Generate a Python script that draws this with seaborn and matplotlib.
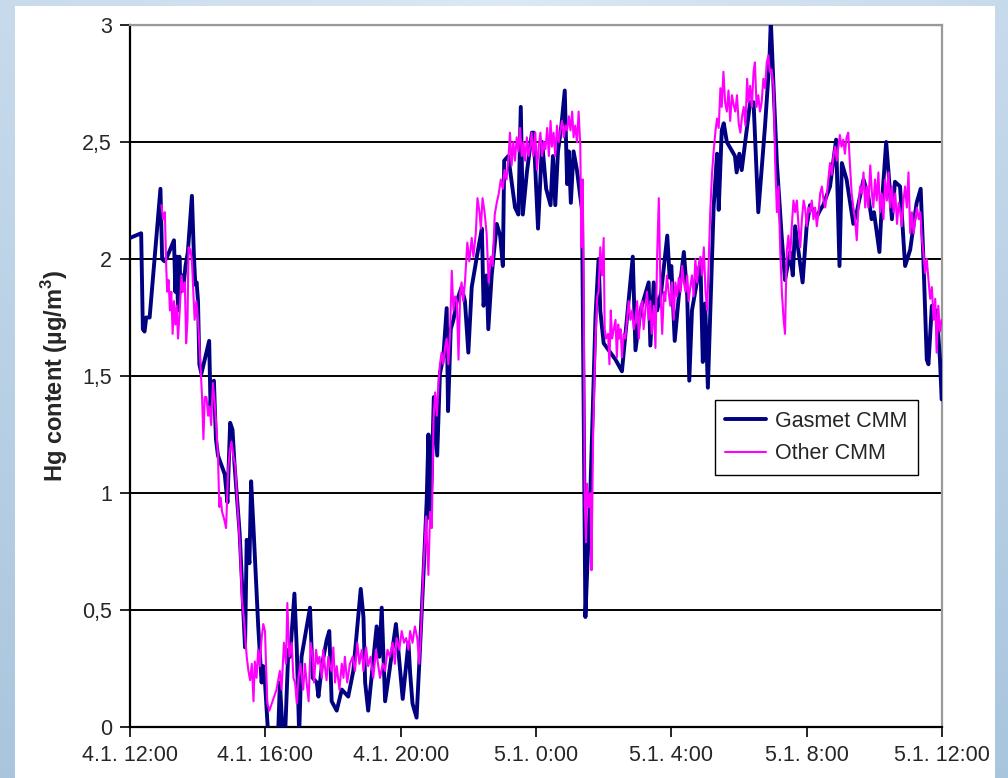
import numpy as np
import pandas as pd
import matplotlib
matplotlib.use("Agg")
import matplotlib.pyplot as plt
from matplotlib.patches import Rectangle
import seaborn as sns

# ---- data (hours after 4.1. 12:00, Hg in ug/m3) ----
gasmet_hours = [0.00, 0.33, 0.38, 0.43, 0.48, 0.58, 0.90, 0.95, 1.02, 1.10, 1.30, 1.34, 1.38, 1.42, 1.46,
                1.50, 1.54, 1.58, 1.64, 1.71, 1.83, 1.89, 1.93, 1.97, 2.01, 2.05, 2.11, 2.34, 2.38, 2.42,
                2.48, 2.54, 2.60, 2.80, 2.88, 2.96, 3.03, 3.09, 3.24, 3.40, 3.45, 3.53, 3.58, 3.65, 3.79,
                3.89, 3.94, 3.99, 4.07, 4.14, 4.38, 4.43, 4.51, 4.58, 4.68, 4.73, 4.86, 4.93, 5.00, 5.07,
                5.32, 5.40, 5.52, 5.57, 5.67, 5.81, 5.89, 5.96, 6.11, 6.26, 6.45, 6.60, 6.82, 6.90, 6.95,
                7.04, 7.29, 7.37, 7.44, 7.54, 7.64, 7.86, 7.93, 8.06, 8.23, 8.28, 8.35, 8.47, 8.55, 8.67,
                8.77, 8.82, 8.87, 8.92, 8.98, 9.08, 9.16, 9.26, 9.36, 9.40, 9.48, 9.56, 9.66, 9.80, 9.90,
                10.00, 10.10, 10.30, 10.40, 10.45, 10.54, 10.59, 10.69, 10.84, 10.94, 11.02, 11.06, 11.18,
                11.28, 11.38, 11.48, 11.55, 11.61, 11.73, 11.88, 11.93, 12.06, 12.18, 12.30, 12.43, 12.50,
                12.57, 12.65, 12.75, 12.85, 12.92, 12.97, 13.03, 13.11, 13.21, 13.36, 13.46, 13.54, 13.61,
                13.76, 13.85, 13.90, 14.00, 14.35, 14.54, 14.69, 14.86, 14.94, 15.09, 15.33, 15.38, 15.48,
                15.58, 15.70, 15.88, 15.95, 16.00, 16.10, 16.22, 16.37, 16.47, 16.53, 16.61, 16.86, 16.93,
                17.00, 17.08, 17.25, 17.35, 17.40, 17.49, 17.55, 17.64, 17.88, 17.93, 18.01, 18.08, 18.33,
                18.43, 18.57, 18.77, 18.90, 18.94, 19.02, 19.12, 19.26, 19.36, 19.51, 19.59, 19.66, 19.76,
                19.88, 20.00, 20.10, 20.30, 20.40, 20.49, 20.69, 20.87, 20.97, 21.04, 21.18, 21.38, 21.48,
                21.68, 21.82, 21.92, 21.99, 22.15, 22.22, 22.35, 22.42, 22.52, 22.61, 22.76, 22.91, 23.06,
                23.25, 23.37, 23.45, 23.55, 23.60, 23.70, 23.77, 23.84, 23.94, 23.99]
gasmet_values = [2.09, 2.11, 1.70, 1.69, 1.75, 1.75, 2.30, 2.00, 1.99, 2.01, 2.08, 1.86, 2.01, 1.78, 2.01,
                 1.86, 1.93, 1.88, 1.97, 2.03, 2.27, 2.01, 1.89, 1.90, 1.82, 1.55, 1.51, 1.65, 1.37, 1.47,
                 1.48, 1.23, 1.16, 1.08, 0.96, 1.30, 1.27, 1.12, 0.83, 0.34, 0.80, 0.70, 1.05, 0.85, 0.43,
                 0.19, 0.26, 0.19, 0.00, -0.04, -0.02, 0.19, -0.02, -0.05, 0.33, 0.30, 0.57, 0.33, -0.03, 0.30,
                 0.51, 0.21, 0.19, 0.13, 0.26, 0.37, 0.41, 0.11, 0.07, 0.16, 0.13, 0.24, 0.59, 0.47, 0.19,
                 0.07, 0.43, 0.30, 0.51, 0.11, 0.21, 0.44, 0.33, 0.12, 0.36, 0.23, 0.10, 0.04, 0.27, 0.64,
                 0.97, 1.25, 0.89, 1.08, 1.41, 1.16, 1.51, 1.58, 1.79, 1.35, 1.70, 1.74, 1.82, 1.88, 1.82,
                 1.60, 1.88, 2.05, 2.13, 1.80, 1.93, 1.70, 1.93, 2.15, 2.10, 1.97, 2.42, 2.44,
                 2.33, 2.22, 2.19, 2.65, 2.19, 2.37, 2.54, 2.54, 2.13, 2.50, 2.30, 2.23, 2.44,
                 2.23, 2.46, 2.57, 2.72, 2.32, 2.46, 2.24, 2.46, 2.38, 2.21, 0.47, 0.77, 1.02,
                 1.76, 2.00, 1.78, 1.64, 1.57, 1.52, 1.75, 2.01, 1.61, 1.78, 1.90, 1.63, 1.90,
                 1.78, 1.86, 2.10, 1.92, 1.97, 1.65, 1.84, 2.03, 1.84, 1.48, 1.78, 1.99, 1.56,
                 1.81, 1.45, 2.22, 2.45, 2.21, 2.55, 2.58, 2.50, 2.44, 2.37, 2.45, 2.38, 2.67,
                 2.67, 2.20, 2.57, 2.85, 3.02, 2.74, 2.41, 2.10, 1.91, 2.03, 1.93, 2.14, 2.03,
                 1.90, 2.14, 2.23, 2.18, 2.21, 2.23, 2.31, 2.51, 1.97, 2.41, 2.34, 2.15, 2.20,
                 2.34, 2.27, 2.17, 2.20, 2.03, 2.23, 2.50, 2.37, 2.17, 2.33, 2.31, 1.97, 2.04,
                 2.24, 2.30, 2.00, 1.57, 1.55, 1.80, 1.75, 1.78, 1.57, 1.40]

other_hours = [0.93, 0.98, 1.03, 1.07, 1.10, 1.14, 1.18, 1.22, 1.26, 1.30, 1.34, 1.38, 1.42, 1.47, 1.52,
               1.57, 1.62, 1.66, 1.70, 1.73, 1.79, 1.83, 1.87, 1.91, 1.96, 2.01, 2.07, 2.13, 2.17, 2.21,
               2.26, 2.31, 2.35, 2.40, 2.45, 2.50, 2.54, 2.60, 2.64, 2.68, 2.72, 2.78, 2.84, 2.90, 2.95,
               3.00, 3.05, 3.11, 3.17, 3.24, 3.31, 3.37, 3.41, 3.45, 3.50, 3.55, 3.60, 3.65, 3.69, 3.74,
               3.79, 3.84, 3.89, 3.94, 3.99, 4.02, 4.06, 4.12, 4.19, 4.26, 4.33, 4.38, 4.43, 4.48, 4.55,
               4.61, 4.65, 4.71, 4.78, 4.83, 4.88, 4.93, 4.98, 5.04, 5.12, 5.17, 5.22, 5.28, 5.34, 5.40,
               5.44, 5.50, 5.55, 5.60, 5.67, 5.71, 5.76, 5.81, 5.86, 5.91, 5.96, 6.01, 6.06, 6.11, 6.19,
               6.26, 6.31, 6.35, 6.42, 6.50, 6.58, 6.65, 6.72, 6.78, 6.85, 6.90, 6.98, 7.04, 7.11, 7.19,
               7.27, 7.34, 7.39, 7.47, 7.54, 7.61, 7.68, 7.76, 7.83, 7.88, 7.96, 8.03, 8.10, 8.16, 8.23,
               8.28, 8.35, 8.42, 8.49, 8.55, 8.61, 8.67, 8.75, 8.82, 8.87, 8.92, 8.97, 9.02, 9.07, 9.12,
               9.16, 9.21, 9.26, 9.31, 9.36, 9.41, 9.46, 9.51, 9.56, 9.61, 9.66, 9.71, 9.76, 9.80, 9.85,
               9.90, 9.97, 10.03, 10.10, 10.15, 10.22, 10.27, 10.33, 10.37, 10.42, 10.48, 10.54, 10.60,
               10.66, 10.72, 10.78, 10.84, 10.90, 10.96, 11.02, 11.07, 11.13, 11.19, 11.23, 11.28, 11.33,
               11.38, 11.43, 11.48, 11.53, 11.58, 11.63, 11.68, 11.73, 11.78, 11.83, 11.87, 11.92, 11.98,
               12.03, 12.08, 12.13, 12.18, 12.23, 12.28, 12.33, 12.38, 12.43, 12.47, 12.52, 12.57, 12.62,
               12.67, 12.72, 12.77, 12.82, 12.87, 12.92, 12.97, 13.02, 13.07, 13.11, 13.16, 13.21, 13.26,
               13.31, 13.34, 13.38, 13.41, 13.44, 13.48, 13.51, 13.56, 13.61, 13.64, 13.69, 13.76, 13.81,
               13.85, 13.90, 13.95, 14.00, 14.03, 14.07, 14.13, 14.17, 14.21, 14.25, 14.30, 14.35, 14.39,
               14.43, 14.46, 14.50, 14.54, 14.59, 14.64, 14.69, 14.74, 14.79, 14.84, 14.89, 14.94, 14.99,
               15.04, 15.09, 15.14, 15.18, 15.23, 15.28, 15.33, 15.38, 15.42, 15.48, 15.53, 15.58, 15.63,
               15.68, 15.73, 15.78, 15.82, 15.87, 15.92, 15.97, 16.02, 16.07, 16.12, 16.17, 16.22, 16.27,
               16.32, 16.37, 16.42, 16.47, 16.51, 16.56, 16.61, 16.66, 16.71, 16.76, 16.81, 16.86, 16.91,
               16.96, 17.01, 17.06, 17.11, 17.15, 17.20, 17.25, 17.30, 17.35, 17.40, 17.45, 17.49, 17.54,
               17.59, 17.64, 17.69, 17.74, 17.79, 17.84, 17.89, 17.94, 17.99, 18.04, 18.09, 18.14, 18.19,
               18.24, 18.28, 18.33, 18.38, 18.43, 18.47, 18.52, 18.57, 18.62, 18.67, 18.72, 18.77, 18.82,
               18.87, 18.91, 18.96, 19.02, 19.07, 19.12, 19.17, 19.22, 19.27, 19.32, 19.36, 19.41, 19.46,
               19.51, 19.56, 19.61, 19.66, 19.71, 19.76, 19.81, 19.86, 19.91, 19.96, 20.00, 20.05, 20.10,
               20.15, 20.20, 20.25, 20.30, 20.35, 20.40, 20.45, 20.50, 20.55, 20.60, 20.64, 20.69, 20.74,
               20.79, 20.84, 20.89, 20.94, 20.98, 21.03, 21.08, 21.13, 21.18, 21.23, 21.28, 21.33, 21.38,
               21.43, 21.48, 21.53, 21.58, 21.63, 21.68, 21.73, 21.78, 21.82, 21.88, 21.93, 21.97, 22.02,
               22.07, 22.12, 22.17, 22.22, 22.27, 22.32, 22.37, 22.42, 22.47, 22.52, 22.57, 22.62, 22.67,
               22.72, 22.77, 22.81, 22.86, 22.91, 22.96, 23.01, 23.06, 23.11, 23.16, 23.21, 23.26, 23.31,
               23.36, 23.41, 23.45, 23.50, 23.55, 23.60, 23.65, 23.70, 23.75, 23.80, 23.84, 23.89, 23.94,
               23.99]
other_values = [2.23, 2.17, 2.20, 1.97, 1.86, 1.91, 1.78, 1.86, 1.68, 1.82, 1.72, 1.80, 1.66, 1.78, 1.93,
                1.86, 1.90, 1.64, 1.74, 2.05, 2.04, 1.99, 1.86, 1.74, 1.82, 1.74, 1.58, 1.41, 1.23, 1.41,
                1.41, 1.33, 1.37, 1.29, 1.47, 1.39, 1.31, 1.16, 0.94, 0.98, 0.92, 0.89, 0.85, 1.10, 1.18,
                1.22, 1.16, 1.12, 0.96, 0.80, 0.54, 0.46, 0.38, 0.30, 0.24, 0.20, 0.27, 0.11, 0.28, 0.21,
                0.33, 0.26, 0.38, 0.44, 0.41, 0.27, 0.10, 0.07, 0.10, 0.13, 0.16, 0.20, 0.24, 0.16, 0.36,
                0.27, 0.53, 0.30, 0.36, 0.21, 0.19, 0.10, 0.21, 0.27, 0.16, 0.27, 0.19, 0.11, 0.36, 0.30,
                0.19, 0.33, 0.27, 0.30, 0.21, 0.33, 0.26, 0.20, 0.30, 0.26, 0.24, 0.34, 0.19, 0.26, 0.16,
                0.27, 0.21, 0.30, 0.19, 0.27, 0.30, 0.24, 0.36, 0.27, 0.33, 0.24, 0.34, 0.26, 0.30, 0.21,
                0.33, 0.26, 0.21, 0.27, 0.24, 0.33, 0.30, 0.36, 0.27, 0.38, 0.33, 0.41, 0.36, 0.38, 0.33,
                0.41, 0.36, 0.43, 0.38, 0.27, 0.44, 0.67, 0.90, 0.65, 0.92, 0.85, 1.31, 1.43, 1.33, 1.47,
                1.55, 1.60, 1.55, 1.62, 1.66, 1.55, 1.68, 1.95, 1.78, 1.84, 1.82, 1.57, 1.86, 1.90, 1.82,
                1.90, 2.07, 1.99, 2.09, 2.01, 2.11, 2.26, 2.20, 2.13, 2.26, 2.20, 2.11, 1.90,
                2.01, 1.97, 2.19, 2.24, 2.28, 2.34, 2.30, 2.38, 2.34, 2.44, 2.54, 2.40, 2.50,
                2.42, 2.52, 2.46, 2.56, 2.44, 2.50, 2.42, 2.52, 2.44, 2.48, 2.54, 2.44, 2.54,
                2.38, 2.48, 2.54, 2.44, 2.50, 2.47, 2.56, 2.44, 2.59, 2.48, 2.54, 2.44, 2.57,
                2.50, 2.55, 2.59, 2.52, 2.57, 2.55, 2.61, 2.55, 2.63, 2.52, 2.57, 2.50, 2.63,
                2.48, 2.05, 2.34, 1.86, 0.96, 0.79, 1.04, 0.94, 1.00, 0.67, 1.27, 1.66, 1.84,
                1.86, 2.05, 1.93, 2.09, 1.70, 1.66, 1.68, 1.55, 1.78, 1.66, 1.70, 1.74, 1.58,
                1.72, 1.66, 1.70, 1.58, 1.68, 1.66, 1.74, 1.82, 1.74, 1.78, 1.70, 1.74, 1.82,
                1.66, 1.80, 1.82, 1.70, 1.78, 1.86, 1.74, 1.82, 1.68, 1.80, 1.62, 2.01, 2.26,
                1.86, 1.68, 1.86, 1.82, 1.93, 1.86, 1.80, 1.90, 1.74, 1.90, 1.84, 1.92, 1.86,
                1.97, 1.90, 1.86, 1.93, 1.82, 1.88, 1.93, 1.84, 2.00, 1.90, 1.97, 2.01, 1.93,
                2.05, 1.86, 1.78, 2.01, 2.20, 2.36, 2.46, 2.54, 2.60, 2.56, 2.73, 2.65, 2.80,
                2.67, 2.63, 2.72, 2.59, 2.70, 2.66, 2.63, 2.70, 2.58, 2.54, 2.61, 2.65, 2.57,
                2.77, 2.67, 2.74, 2.65, 2.80, 2.84, 2.65, 2.70, 2.63, 2.67, 2.77, 2.73, 2.84,
                2.87, 2.80, 2.81, 2.74, 2.41, 2.20, 2.31, 2.03, 1.85, 1.74, 1.68, 2.03, 2.10,
                2.00, 2.14, 2.25, 2.20, 2.25, 2.14, 2.05, 2.17, 2.25, 2.21, 2.14, 2.22, 2.20,
                2.25, 2.17, 2.22, 2.14, 2.20, 2.28, 2.31, 2.25, 2.22, 2.28, 2.34, 2.41, 2.36,
                2.44, 2.48, 2.42, 2.48, 2.53, 2.48, 2.51, 2.45, 2.52, 2.54, 2.40, 2.28, 2.22,
                2.17, 2.08, 2.22, 2.31, 2.28, 2.37, 2.22, 2.31, 2.22, 2.40, 2.28, 2.22, 2.34,
                2.25, 2.37, 2.20, 2.28, 2.17, 2.34, 2.25, 2.37, 2.22, 2.31, 2.20, 2.28, 2.15,
                2.24, 2.20, 2.14, 2.25, 2.31, 2.22, 2.37, 2.11, 2.20, 2.11, 2.17, 2.22, 2.17,
                2.20, 2.08, 2.03, 1.94, 2.00, 1.91, 1.83, 1.88, 1.74, 1.83, 1.60, 1.80, 1.69,
                1.74]

x_ticks = [0, 4, 8, 12, 16, 20, 24]
x_labels = ["4.1. 12:00", "4.1. 16:00", "4.1. 20:00", "5.1. 0:00", "5.1. 4:00", "5.1. 8:00", "5.1. 12:00"]
y_ticks = [0, 0.5, 1, 1.5, 2, 2.5, 3]
y_labels = ["0", "0,5", "1", "1,5", "2", "2,5", "3"]
series_names = ["Gasmet CMM", "Other CMM"]

sns.set_theme(style="white")
plt.rcParams['font.family'] = ['Liberation Sans', 'DejaVu Sans']
plt.rcParams['mathtext.fontset'] = 'custom'
plt.rcParams['mathtext.rm'] = 'Liberation Sans'
plt.rcParams['mathtext.bf'] = 'Liberation Sans:bold'

W, H = 1008, 778
fig = plt.figure(figsize=(W / 100, H / 100), dpi=100)

# blue gradient backdrop with white panel
bg = fig.add_axes([0, 0, 1, 1], zorder=-10)
gx = np.linspace(0, 1, 200)[None, :]
gy = np.linspace(0, 1, 160)[:, None]
c1 = np.array([0.86, 0.91, 0.96])
c2 = np.array([0.64, 0.76, 0.86])
t = np.clip(0.55 * gy + 0.35 * np.abs(gx - 0.5) * 2, 0, 1)[..., None]
img = c1 * (1 - t) + c2 * t
bg.imshow(img, aspect="auto", extent=[0, 1, 0, 1], origin="upper")
bg.add_patch(Rectangle((15 / W, 0), (995 - 15) / W, (H - 6) / H, facecolor="white", edgecolor="none"))
bg.set_xlim(0, 1)
bg.set_ylim(0, 1)
bg.axis("off")

ax = fig.add_axes([130 / W, (H - 727) / H, (942 - 130) / W, (727 - 25) / H])
ax.set_facecolor("white")

df_g = pd.DataFrame({"hours": gasmet_hours, "value": gasmet_values})
df_o = pd.DataFrame({"hours": other_hours, "value": other_values})

for y in y_ticks[1:-1]:
    ax.axhline(y, color="black", lw=1.4, zorder=1)
ax.axhline(3, color="#9a9a9a", lw=1.6, zorder=1)

sns.lineplot(data=df_g, x="hours", y="value", ax=ax, color="#000080", lw=2.8,
             label=series_names[0], estimator=None, sort=False, zorder=3)
sns.lineplot(data=df_o, x="hours", y="value", ax=ax, color="#FF00FF", lw=1.5,
             label=series_names[1], estimator=None, sort=False, zorder=4)

ax.set_xlim(0, 24)
ax.set_ylim(0, 3)
ax.set_xticks(x_ticks)
ax.set_xticklabels(x_labels)
ax.set_yticks(y_ticks)
ax.set_yticklabels(y_labels)
ax.set_xlabel("")
ax.set_ylabel("Hg content (µg/m$^\\mathbf{3}$)", fontsize=17, fontweight="bold")
ax.yaxis.set_label_coords(-0.074, 0.5)
ax.tick_params(axis="both", which="major", direction="out", length=7, width=1.2,
               color="black", labelsize=15.5, pad=6, bottom=True, left=True)

for side in ["left", "bottom"]:
    ax.spines[side].set_color("black")
    ax.spines[side].set_linewidth(1.6)
for side in ["top", "right"]:
    ax.spines[side].set_color("#9a9a9a")
    ax.spines[side].set_linewidth(1.6)
ax.grid(False)

leg = ax.legend(loc="upper left", bbox_to_anchor=(0.72, 0.466), borderaxespad=0,
                fontsize=15.5, frameon=True, fancybox=False, framealpha=1, edgecolor="black",
                handlelength=1.9, handletextpad=0.4, borderpad=0.5, labelspacing=0.55)
leg.get_frame().set_linewidth(1.0)

fig.savefig("out.png", dpi=100)
